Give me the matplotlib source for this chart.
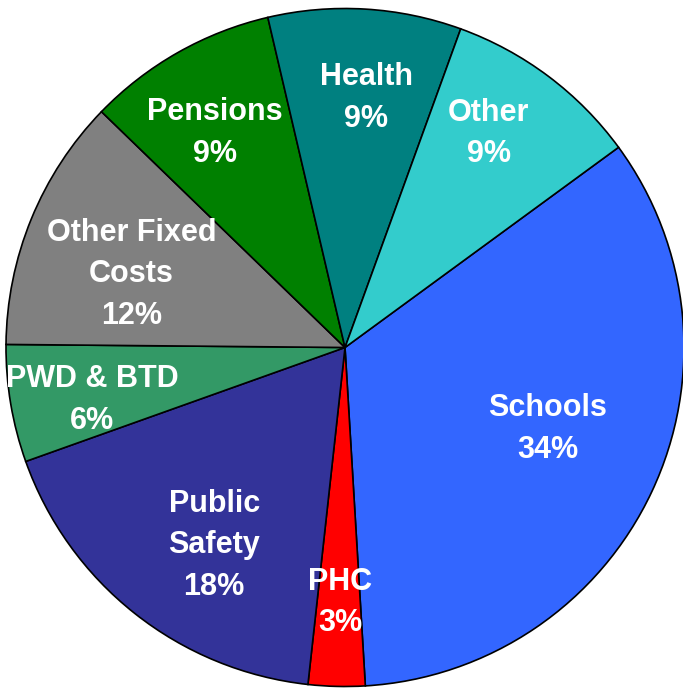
import numpy as np
import matplotlib.pyplot as plt

plt.rcParams['font.family'] = ['Liberation Sans', 'DejaVu Sans']

# budget shares (percent), clockwise from Schools
categories = ['Schools', 'PHC', 'Public\nSafety', 'PWD & BTD', 'Other Fixed\nCosts',
              'Pensions', 'Health', 'Other']
shares = [34.1, 2.7, 17.8, 5.6, 12.1, 9.1, 9.2, 9.4]
colors = ['#3366FF', '#FF0000', '#333399', '#339966', '#808080',
          '#008000', '#008080', '#33CCCC']

# label placement (fraction of radius, angle nudge in degrees)
label_dist = [0.64, 0.74, 0.69, 0.76, 0.67, 0.75, 0.75, 0.77]
label_nudge = [4.2, 0.3, 4.3, 1.3, 2.4, 1.3, -1.4, 3.5]

fig = plt.figure(figsize=(6.83, 6.92), dpi=100)
ax = fig.add_axes([0, 0, 1, 1])

wedges, _ = ax.pie(shares, colors=colors, startangle=36.2, counterclock=False,
                   wedgeprops=dict(edgecolor='black', linewidth=1.2))

# pie centre sits at about (345, 347) px with radius ~339 px
R = 339.0
for w, name, val, d, nudge in zip(wedges, categories, shares, label_dist, label_nudge):
    ang = np.deg2rad((w.theta1 + w.theta2) / 2 + nudge)
    ax.text(d * np.cos(ang), d * np.sin(ang) - 4 / R, f'{name}\n{val:.0f}%',
            ha='center', va='center', color='white', fontsize=22,
            fontweight='bold', linespacing=1.5)

ax.set_xlim(-345 / R, (683 - 345) / R)
ax.set_ylim(-(692 - 347.5) / R, 347.5 / R)
ax.axis('off')

fig.savefig('out.png', dpi=100)
